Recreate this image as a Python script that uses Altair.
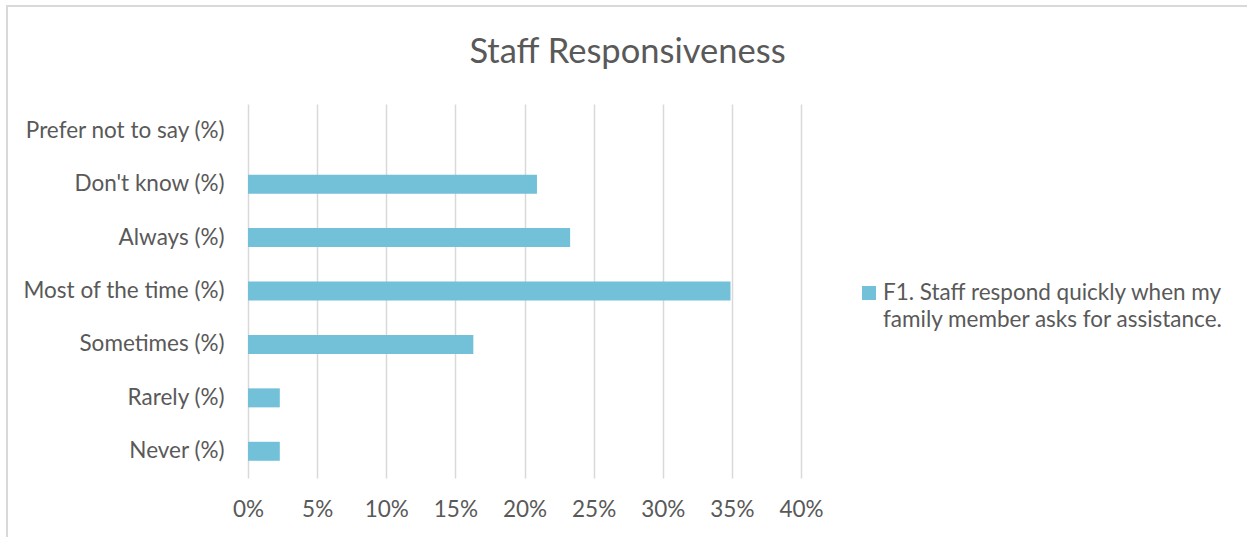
import altair as alt
import pandas as pd

categories = ["Prefer not to say (%)", "Don't know (%)", "Always (%)",
              "Most of the time (%)", "Sometimes (%)", "Rarely (%)", "Never (%)"]
values = [0.0, 0.209, 0.233, 0.349, 0.163, 0.023, 0.023]
series_lines = ["F1. Staff respond quickly when my", "family member asks for assistance."]
title_text = "Staff Responsiveness"
x_ticks = [0, 0.05, 0.10, 0.15, 0.20, 0.25, 0.30, 0.35, 0.40]

df = pd.DataFrame({"category": categories, "value": values})

FONT = "Lato"
GREY = "#595959"
BAR = "#72C1D9"
FS = 22.5

# plot area origin in page pixels
OX, OY = 248, 104

bars = alt.Chart(df).mark_bar(size=19, color=BAR).encode(
    y=alt.Y("category:N", sort=categories, title=None,
            scale=alt.Scale(paddingInner=0, paddingOuter=0),
            axis=alt.Axis(labelFont=FONT, labelFontSize=FS, labelColor=GREY,
                          labelPadding=24, ticks=False, domain=False, grid=False,
                          labelLimit=400)),
    x=alt.X("value:Q", title=None,
            scale=alt.Scale(domain=[0, 0.40], nice=False),
            axis=alt.Axis(values=x_ticks, format=".0%", labelFont=FONT, labelFontSize=FS,
                          labelColor=GREY, labelPadding=20, ticks=False, domain=False,
                          labelFlush=False, grid=True, gridColor="#D9D9D9", gridWidth=1.5)),
)

one = pd.DataFrame({"a": [0]})

border = alt.Chart(one).mark_rect(
    fill=None, stroke="#D9D9D9", strokeWidth=2
).encode(
    x=alt.value(7 - OX), x2=alt.value(1400), y=alt.value(6 - OY), y2=alt.value(700)
)

title = alt.Chart(one).mark_text(
    font=FONT, fontSize=34.5, color=GREY, align="center", baseline="alphabetic"
).encode(x=alt.value(627.5 - OX), y=alt.value(63 - OY), text=alt.value(title_text))

legend_symbol = alt.Chart(one).mark_square(size=196, color=BAR, opacity=1).encode(
    x=alt.value(869 - OX), y=alt.value(293 - OY)
)

legend_text = alt.Chart(one).mark_text(
    font=FONT, fontSize=FS, color=GREY, align="left", baseline="alphabetic", lineHeight=27
).encode(x=alt.value(883 - OX), y=alt.value(300 - OY), text=alt.value(series_lines))

chart = alt.layer(border, bars, title, legend_symbol, legend_text).properties(
    width=553, height=374,
    padding={"left": OX, "top": OY, "right": 1247 - 801, "bottom": 537 - 478},
    autosize=alt.AutoSizeParams(type="none"),
    background="white",
).configure_view(stroke=None)

chart.save("out.html", embed_options={"renderer": "svg", "actions": False})
